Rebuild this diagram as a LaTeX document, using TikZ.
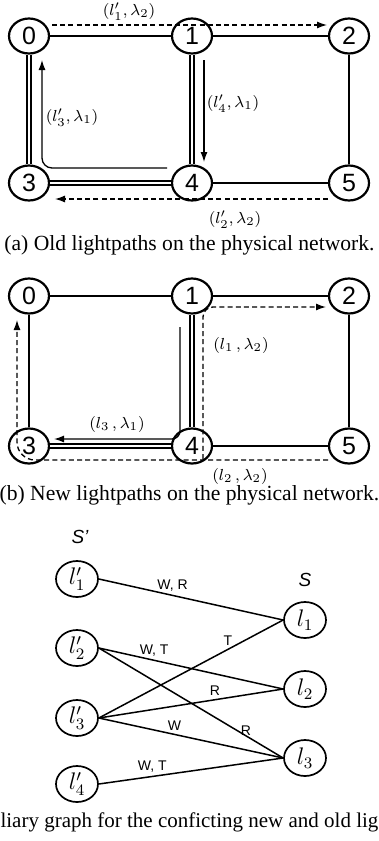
\documentclass[tikz,border=0pt]{standalone}
\usepackage{fontspec}
\setmainfont{Liberation Serif}
\setsansfont{Liberation Sans}
\usetikzlibrary{arrows.meta,shapes.geometric}

\tikzset{
  netnode/.style={ellipse, draw, line width=1.1pt, fill=white, minimum width=20pt, minimum height=17.5pt, inner sep=0pt, font=\sffamily\fontsize{12.5}{12.5}\selectfont},
  link/.style={line width=1.3pt},
  dlink/.style={line width=0.9pt, double, double distance=1.3pt},
  lpath/.style={line width=0.65pt, rounded corners=5pt, -{Latex[length=5pt,width=3.5pt]}},
  oldpath/.style={lpath, dash pattern=on 2.5pt off 1.6pt},
  plabel/.style={font=\fontsize{8.5}{8.5}\selectfont, inner sep=0pt},
  caption/.style={font=\fontsize{10.8}{12}\selectfont, inner sep=0pt},
  auxnode/.style={ellipse, draw, line width=0.85pt, fill=white, minimum width=21pt, minimum height=18pt, inner sep=0pt, font=\fontsize{12}{12}\selectfont},
  conflict/.style={line width=0.75pt},
  elabel/.style={font=\sffamily\fontsize{7}{7}\selectfont, inner sep=1.5pt}
}

\begin{document}
\begin{tikzpicture}[x=0.5pt, y=-0.5pt]
  \useasboundingbox (0,0) rectangle (379,841);

  % (a) old lightpaths
  \foreach \i/\x/\y in {0/29/36,1/192/36,2/349/36,3/29/183,4/192/183,5/349/183}
    \node[netnode] (a\i) at (\x,\y) {\i};
  \foreach \p/\q in {0/1,1/2,2/5,4/5}
    \draw[link] (a\p) -- (a\q);
  \foreach \p/\q in {0/3,1/4,3/4}
    \draw[dlink] (a\p) -- (a\q);
  \draw[oldpath] (52,25) -- (327,25);
  \draw[oldpath] (328,199) -- (55,199);
  \draw[lpath] (167,168) -- (42,168) -- (42,60);
  \draw[lpath] (204,60) -- (204,162);
  \node[plabel] (la1) at (129,12) {$(l'_1,\lambda_2)$};
  \node[plabel] (la2) at (235,220) {$(l'_2,\lambda_2)$};
  \node[plabel] (la3) at (72,118) {$(l'_3,\lambda_1)$};
  \node[plabel] (la4) at (233,104) {$(l'_4,\lambda_1)$};
  \node[caption] (capa) at (189.5,245) {(a) Old lightpaths on the physical network.};

  % (b) new lightpaths
  \foreach \i/\x/\y in {0/29/296,1/192/296,2/349/296,3/29/446,4/192/446,5/349/446}
    \node[netnode] (b\i) at (\x,\y) {\i};
  \foreach \p/\q in {0/1,1/2,2/5,4/5,0/3}
    \draw[link] (b\p) -- (b\q);
  \foreach \p/\q in {1/4,3/4}
    \draw[dlink] (b\p) -- (b\q);
  \draw[oldpath] (203,459) -- (203,307) -- (326,307);
  \draw[oldpath, rounded corners=9pt] (328,460) -- (17,460) -- (17,320);
  \draw[lpath, rounded corners=4pt] (180,327) -- (180,439) -- (54,439);
  \node[plabel] (lb1) at (241,345) {$(l_1\,,\lambda_2)$};
  \node[plabel] (lb2) at (240,476) {$(l_2\,,\lambda_2)$};
  \node[plabel] (lb3) at (117,424) {$(l_3\,,\lambda_1)$};
  \node[caption] (capb) at (189.5,495) {(b) New lightpaths on the physical network.};

  % (c) auxiliary graph
  \node[font=\sffamily\itshape\fontsize{9.5}{9.5}\selectfont] (setold) at (80,537) {S'};
  \node[font=\sffamily\itshape\fontsize{9.5}{9.5}\selectfont] (setnew) at (305,580) {S};
  \foreach \i/\y in {1/579,2/648,3/718,4/784}
    \node[auxnode] (o\i) at (77,\y) {$l'_\i$};
  \foreach \i/\y in {1/620,2/689,3/758}
    \node[auxnode] (n\i) at (305,\y) {$l_\i$};
  \draw[conflict] (o1.east) -- node[elabel, pos=0.4, above] {W, R} (n1.west);
  \draw[conflict] (o2.east) -- node[elabel, pos=0.3, above] {W, T} (n2.west);
  \draw[conflict] (o2.east) -- node[elabel, pos=0.75, right] {R} (n3.west);
  \draw[conflict] (o3.east) -- node[elabel, pos=0.7, above] {T} (n1.west);
  \draw[conflict] (o3.east) -- node[elabel, pos=0.63, above] {R} (n2.west);
  \draw[conflict] (o3.east) -- node[elabel, pos=0.41, above] {W} (n3.west);
  \draw[conflict] (o4.east) -- node[elabel, pos=0.29, above] {W, T} (n3.west);
  \node[caption, font=\fontsize{10.5}{12}\selectfont] (capc) at (189.5,822) {liary graph for the conficting new and old lig};
\end{tikzpicture}
\end{document}
